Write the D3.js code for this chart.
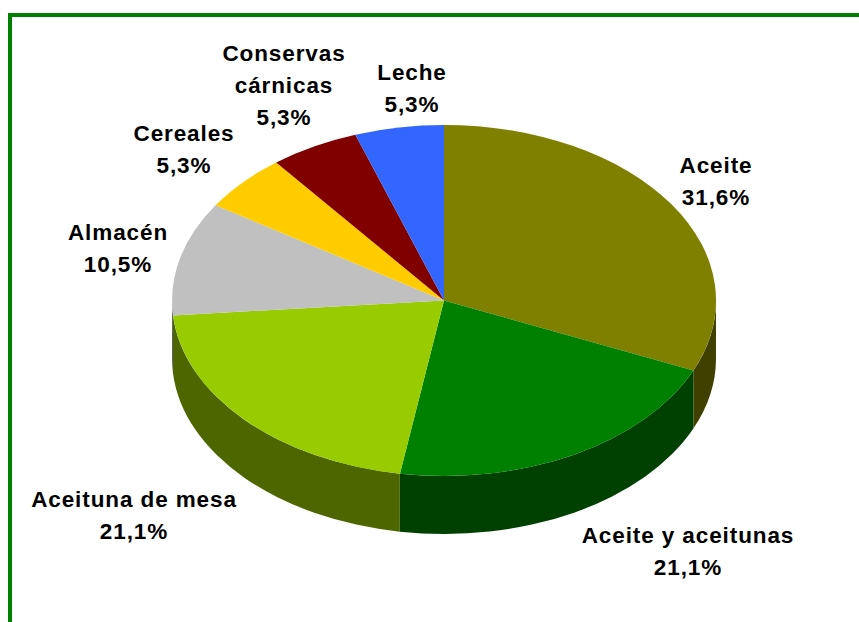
<!DOCTYPE html>
<html lang="es">
<head>
<meta charset="UTF-8">
<script src="https://cdn.jsdelivr.net/npm/d3@7"></script>
<style>
  html, body { margin: 0; padding: 0; background: #fff; }
  svg { display: block; }
  text { font-family: "Liberation Sans", Arial, sans-serif; font-weight: bold; font-size: 22.5px; letter-spacing: 0.9px; fill: #000; }
</style>
</head>
<body>
<script>
// datos del grafico
var categories = ['Aceite', 'Aceite y aceitunas', 'Aceituna de mesa', 'Almacén', 'Cereales', 'Conservas cárnicas', 'Leche'];
var values = [31.6, 21.1, 21.1, 10.5, 5.3, 5.3, 5.3];
var valueLabels = ['31,6%', '21,1%', '21,1%', '10,5%', '5,3%', '5,3%', '5,3%'];
var colors = ['#808000', '#008000', '#99cc00', '#c0c0c0', '#ffcc00', '#800000', '#3366ff'];
var sideColors = ['#404000', '#004000', '#4d6600', '#606060', '#806600', '#400000', '#1a3380'];
var labelLines = [['Aceite'], ['Aceite y aceitunas'], ['Aceituna de mesa'], ['Almacén'], ['Cereales'], ['Conservas', 'cárnicas'], ['Leche']];
var labelPos = [[716, 173], [688, 543], [134, 507], [118, 240], [184, 141], [284, 61], [412, 80]];

var width = 859, height = 622;
var cx = 444, cy = 300.5, rx = 272, ry = 175.5, depth = 58;

var svg = d3.select('body').append('svg').attr('width', width).attr('height', height);

// marco verde
svg.append('path')
  .attr('d', 'M10,622V15H859')
  .attr('fill', 'none')
  .attr('stroke', '#008000')
  .attr('stroke-width', 4);

var pie = d3.pie().value(function (d) { return d; }).sort(null);
var slices = pie(values);

function px(a) { return cx + rx * Math.sin(a); }
function py(a, dy) { return cy - ry * Math.cos(a) + (dy || 0); }

// pared lateral, solo la parte visible (de 90 a 270 grados)
function wall(d) {
  var a0 = Math.max(d.startAngle, Math.PI / 2), a1 = Math.min(d.endAngle, Math.PI * 1.5);
  if (a1 <= a0) return null;
  return 'M' + px(a0) + ',' + py(a0)
    + 'A' + rx + ',' + ry + ' 0 0 1 ' + px(a1) + ',' + py(a1)
    + 'L' + px(a1) + ',' + py(a1, depth)
    + 'A' + rx + ',' + ry + ' 0 0 0 ' + px(a0) + ',' + py(a0, depth) + 'Z';
}

svg.append('g').selectAll('path')
  .data(slices)
  .enter().append('path')
  .attr('d', wall)
  .attr('fill', function (d, i) { return sideColors[i]; });

var arc = d3.arc().innerRadius(0).outerRadius(1);
svg.append('g')
  .attr('transform', 'translate(' + cx + ',' + cy + ') scale(' + rx + ',' + ry + ')')
  .selectAll('path')
  .data(slices)
  .enter().append('path')
  .attr('d', arc)
  .attr('fill', function (d, i) { return colors[i]; });

// etiquetas
var labels = svg.append('g').selectAll('text')
  .data(categories)
  .enter().append('text')
  .attr('text-anchor', 'middle')
  .attr('y', function (d, i) { return labelPos[i][1]; });

labels.each(function (d, i) {
  var t = d3.select(this);
  labelLines[i].concat(valueLabels[i]).forEach(function (line, k) {
    t.append('tspan')
      .attr('x', labelPos[i][0])
      .attr('dy', k ? 32 : 0)
      .text(line);
  });
});
</script>
</body>
</html>
